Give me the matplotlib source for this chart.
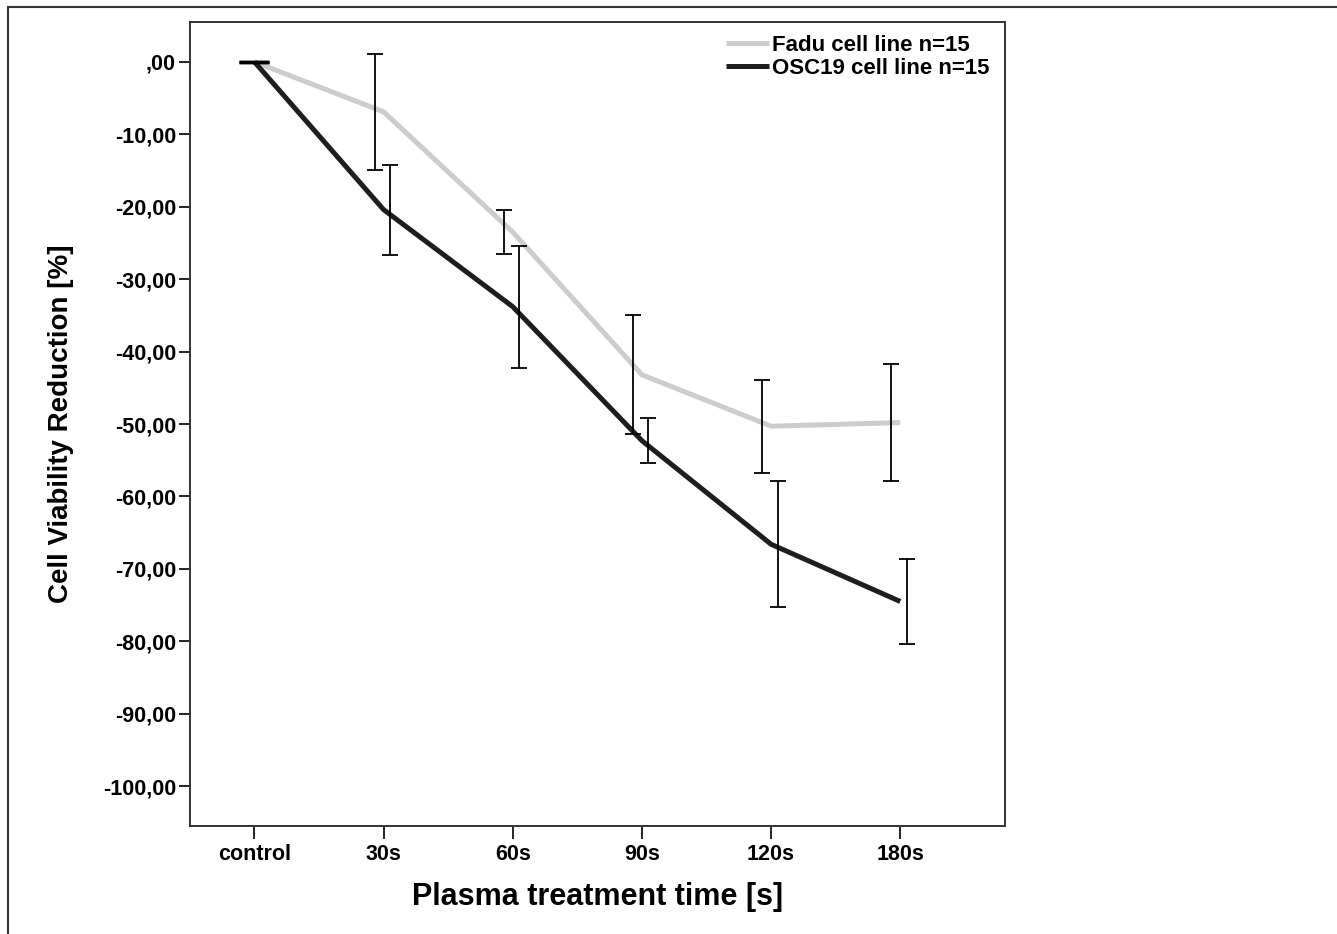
import numpy as np
import matplotlib
matplotlib.use("Agg")
import matplotlib.pyplot as plt
from matplotlib.patches import Rectangle

plt.rcParams['font.family'] = ['Liberation Sans', 'DejaVu Sans']
plt.rcParams['font.weight'] = 'bold'

# datos
categorias = ['control', '30s', '60s', '90s', '120s', '180s']
fadu_media = [0.0, -6.9, -23.5, -43.2, -50.3, -49.8]
fadu_error = [0.0, 8.0, 3.0, 8.2, 6.4, 8.1]
osc_media = [0.0, -20.4, -33.8, -52.3, -66.6, -74.5]
osc_error = [0.0, 6.2, 8.4, 3.1, 8.7, 5.9]
yticks = [0, -10, -20, -30, -40, -50, -60, -70, -80, -90, -100]
yticklabels = [',00', '-10,00', '-20,00', '-30,00', '-40,00', '-50,00',
               '-60,00', '-70,00', '-80,00', '-90,00', '-100,00']

x = np.arange(len(categorias))

fig = plt.figure(figsize=(13.37, 9.34), dpi=100)
ax = fig.add_axes([0.142, 0.1156, 0.6096, 0.8608])

ax.plot(x, fadu_media, color='#cccccc', lw=3.6, label='Fadu cell line n=15',
        solid_capstyle='butt', zorder=2)
ax.plot(x, osc_media, color='#1e1e1e', lw=3.6, label='OSC19 cell line n=15',
        solid_capstyle='butt', zorder=3)

ax.errorbar(x[1:] - 0.07, fadu_media[1:], yerr=fadu_error[1:], fmt='none',
            ecolor='black', elinewidth=1.3, capsize=6, capthick=1.3, zorder=4)
ax.errorbar(x[1:] + 0.05, osc_media[1:], yerr=osc_error[1:], fmt='none',
            ecolor='black', elinewidth=1.3, capsize=6, capthick=1.3, zorder=4)
# barra de error nula en control
ax.errorbar([0], [0], yerr=[0], fmt='none', ecolor='black', elinewidth=1.3,
            capsize=11, capthick=2.5, zorder=4)

ax.set_xlim(-0.5, 5.81)
ax.set_ylim(-105.5, 5.5)
ax.set_xticks(x)
ax.set_xticklabels(categorias, fontsize=15.5, fontweight='bold')
ax.set_yticks(yticks)
ax.set_yticklabels(yticklabels, fontsize=15.5, fontweight='bold')
ax.tick_params(axis='x', length=9, width=1.2, pad=4)
ax.tick_params(axis='y', length=8, width=1.2, pad=2)

for s in ax.spines.values():
    s.set_color('#333333')
    s.set_linewidth(1.4)

ax.set_xlabel('Plasma treatment time [s]', fontsize=22, fontweight='bold', labelpad=12)
ax.set_ylabel('Cell Viability Reduction [%]', fontsize=20, fontweight='bold', labelpad=21)

leg = ax.legend(loc='upper right', bbox_to_anchor=(0.995, 0.998), frameon=False,
                fontsize=16, handlelength=1.95, handletextpad=0.15,
                labelspacing=0.08, borderaxespad=0.1)
for t in leg.get_texts():
    t.set_fontweight('bold')

# marco exterior de la figura
fig.patches.append(Rectangle((8 / 1337, -0.05), 1.2, 1.05 - 7 / 934,
                             transform=fig.transFigure, fill=False,
                             edgecolor='#333333', lw=1.5))

fig.savefig('out.png', dpi=100)
